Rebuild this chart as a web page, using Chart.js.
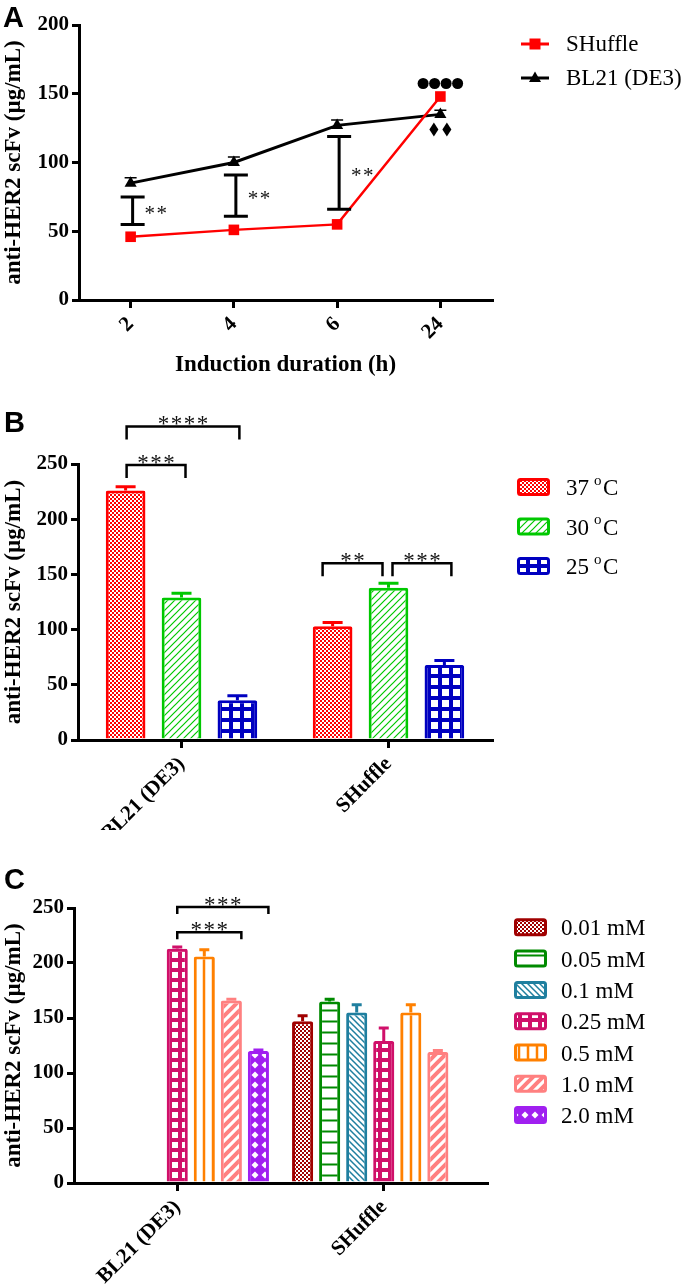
<!DOCTYPE html>
<html>
<head>
<meta charset="utf-8">
<script src="https://cdn.jsdelivr.net/npm/chart.js@4.4.1/dist/chart.umd.min.js"></script>
<style>
  body { margin: 0; background: #fff; width: 685px; height: 1285px; position: relative; overflow: hidden; }
  canvas { position: absolute; left: 0; }
</style>
</head>
<body>
<canvas id="chartA" width="685" height="390" style="top:0"></canvas>
<canvas id="chartB" width="685" height="440" style="top:390px"></canvas>
<canvas id="chartC" width="685" height="445" style="top:840px"></canvas>
<script>
/* === DATA === */
// Panel A - induction duration
const hours = ["2", "4", "6", "24"];
const shuffleA = [46, 51, 55, 148];
const bl21A = [85, 100, 127, 135];
const bl21AErr = [4, 4, 4, 3];
const sigLowA = [55, 61, 66, null];
const sigHighA = [75, 91, 119, null];

// Panel B - temperature
const strains = ["BL21 (DE3)", "SHuffle"];
const temps = ["37", "30", "25"];
const temp37 = [226, 103];
const temp37Err = [3.5, 3.5];
const temp30 = [129, 138];
const temp30Err = [4, 4];
const temp25 = [36, 68];
const temp25Err = [4, 4];

// Panel C - IPTG concentration
const iptgLabels = ["0.01 mM", "0.05 mM", "0.1 mM", "0.25 mM", "0.5 mM", "1.0 mM", "2.0 mM"];
const iptg001 = [null, 147];
const iptg005 = [null, 165];
const iptg01 = [null, 155];
const iptg025 = [213, 129];
const iptg05 = [206, 155];
const iptg10 = [166, 119];
const iptg20 = [120, null];
const iptg001Err = [0, 5];
const iptg005Err = [0, 2];
const iptg01Err = [0, 7];
const iptg025Err = [1.5, 12];
const iptg05Err = [6, 7];
const iptg10Err = [1, 1.5];
const iptg20Err = [1, 0];

const SERIF = '"Liberation Serif", "Times New Roman", serif';
const SANS = '"Liberation Sans", Arial, sans-serif';

/* === PATTERNS === */
function makePattern(size, draw) {
  const c = document.createElement("canvas");
  c.width = size; c.height = size;
  const g = c.getContext("2d");
  g.fillStyle = "#fff";
  g.fillRect(0, 0, size, size);
  draw(g, size);
  return g.createPattern(c, "repeat");
}
const checker = col => makePattern(4, (g) => {
  g.fillStyle = col; g.fillRect(0, 0, 4, 4);
  g.fillStyle = "#fff"; g.fillRect(0, 0, 2, 2); g.fillRect(2, 2, 2, 2);
});
const diag = (col, s, lw) => makePattern(s, (g) => {
  g.strokeStyle = col; g.lineWidth = lw;
  g.beginPath();
  g.moveTo(-1, s + 1); g.lineTo(s + 1, -1);
  g.moveTo(-3, 3); g.lineTo(3, -3);
  g.moveTo(s - 3, s + 3); g.lineTo(s + 3, s - 3);
  g.stroke();
});
const backDiag = (col, s, lw) => makePattern(s, (g) => {
  g.strokeStyle = col; g.lineWidth = lw;
  g.beginPath();
  g.moveTo(-1, -1); g.lineTo(s + 1, s + 1);
  g.moveTo(s - 2, -2); g.lineTo(s + 2, 2);
  g.moveTo(-2, s - 2); g.lineTo(2, s + 2);
  g.stroke();
});
const grid = (col, s, hole) => makePattern(s, (g) => {
  g.fillStyle = col; g.fillRect(0, 0, s, s);
  g.fillStyle = "#fff"; g.fillRect((s - hole) / 2, (s - hole) / 2, hole, hole);
});
const hLines = (col, s, lw) => makePattern(s, (g) => {
  g.fillStyle = col; g.fillRect(0, s / 2 - lw / 2, s, lw);
});
const vLines = (col, s, lw, at) => makePattern(s, (g) => {
  g.fillStyle = col; g.fillRect(at - lw / 2, 0, lw, s);
});
const diamonds = (col, s) => makePattern(s, (g) => {
  g.fillStyle = col; g.fillRect(0, 0, s, s);
  g.fillStyle = "#fff";
  g.beginPath();
  g.moveTo(s / 2, 1.5); g.lineTo(s - 1.5, s / 2); g.lineTo(s / 2, s - 1.5); g.lineTo(1.5, s / 2);
  g.closePath(); g.fill();
});

const colB = ["#ff0000", "#00c800", "#0000c0"];
const fillB = [checker(colB[0]), diag(colB[1], 7, 1.2), grid(colB[2], 11, 7)];
const colC = ["#a00000", "#008a00", "#1f7f9f", "#d0106a", "#ff8000", "#ff8080", "#a020f0"];
const fillC = [
  checker(colC[0]), hLines(colC[1], 11, 2), backDiag(colC[2], 6, 1.5),
  grid(colC[3], 10, 6), vLines(colC[4], 9, 2.5, 6), diag(colC[5], 10, 4), diamonds(colC[6], 10)
];

/* === SHARED AXES === */
function yAxis(max, width) {
  return {
    min: 0, max: max,
    ticks: { stepSize: 50, color: "#000", padding: 3, font: { family: SERIF, size: 21, weight: "bold" } },
    grid: { drawOnChartArea: false, tickLength: 7, lineWidth: 3, color: "#000" },
    border: { width: 3, color: "#000" },
    title: { display: true, text: "anti-HER2 scFv (µg/mL)", color: "#000", padding: 0,
             font: { family: SERIF, size: 23, weight: "bold" } },
    afterFit(s) { s.width = width; }
  };
}
function xAxis(height, title) {
  return {
    offset: true,
    ticks: { minRotation: 45, maxRotation: 45, autoSkip: false, color: "#000", padding: 4,
             font: { family: SERIF, size: 21, weight: "bold" } },
    grid: { drawOnChartArea: false, offset: false, tickLength: 8, lineWidth: 3, color: "#000" },
    border: { width: 3, color: "#000" },
    title: title
      ? { display: true, text: title, color: "#000", padding: { top: 0, bottom: 11 },
          font: { family: SERIF, size: 23, weight: "bold" } }
      : { display: false },
    afterFit(s) { s.height = height; }
  };
}

function panelLabel(ctx, txt, x, y) {
  ctx.save();
  ctx.font = "bold 29px " + SANS;
  ctx.fillStyle = "#000";
  ctx.textBaseline = "alphabetic";
  ctx.fillText(txt, x, y);
  ctx.restore();
}
function drawStars(ctx, n, cx, baseY, size, gap) {
  ctx.save();
  ctx.font = size + "px " + SERIF;
  ctx.fillStyle = "#111";
  ctx.textAlign = "center";
  ctx.textBaseline = "alphabetic";
  for (let k = 0; k < n; k++) ctx.fillText("*", cx + (k - (n - 1) / 2) * gap, baseY);
  ctx.restore();
}
function legendBox(ctx, x, cy, fill, col) {
  ctx.save();
  ctx.fillStyle = fill;
  ctx.strokeStyle = col;
  ctx.lineWidth = 3;
  ctx.beginPath();
  ctx.roundRect(x + 1.5, cy - 7.5, 30, 15, 2);
  ctx.fill();
  ctx.stroke();
  ctx.restore();
}

/* === PANEL A === */
const plugA = {
  id: "plugA",
  beforeDatasetsDraw(chart) {
    const { ctx, scales: { x, y } } = chart;
    ctx.save();
    ctx.strokeStyle = "#000";
    ctx.lineWidth = 1.5;
    bl21AErr.forEach((e, i) => {
      const px = x.getPixelForValue(i);
      const y0 = y.getPixelForValue(bl21A[i]);
      const y1 = y.getPixelForValue(bl21A[i] + e);
      ctx.beginPath();
      ctx.moveTo(px, y0); ctx.lineTo(px, y1);
      ctx.moveTo(px - 6, y1); ctx.lineTo(px + 6, y1);
      ctx.stroke();
    });
    ctx.restore();
  },
  afterDatasetsDraw(chart) {
    const { ctx, scales: { x, y } } = chart;
    ctx.save();
    ctx.strokeStyle = "#000";
    ctx.lineWidth = 3;
    sigLowA.forEach((lo, i) => {
      if (lo == null) return;
      const px = x.getPixelForValue(i) + 2;
      const yl = y.getPixelForValue(lo), yh = y.getPixelForValue(sigHighA[i]);
      ctx.beginPath();
      ctx.moveTo(px, yl); ctx.lineTo(px, yh);
      ctx.moveTo(px - 12, yl); ctx.lineTo(px + 12, yl);
      ctx.moveTo(px - 12, yh); ctx.lineTo(px + 12, yh);
      ctx.stroke();
      drawStars(ctx, 2, px + 23, (yl + yh) / 2 + 9, 21, 12);
    });
    // markers at 24 h
    const px = x.getPixelForValue(3);
    const ys = y.getPixelForValue(shuffleA[3]) - 13;
    ctx.fillStyle = "#000";
    for (let k = 0; k < 4; k++) {
      ctx.beginPath();
      ctx.arc(px + (k - 1.5) * 11.5, ys, 5.5, 0, Math.PI * 2);
      ctx.fill();
    }
    const yb = y.getPixelForValue(bl21A[3]) + 15;
    [-6.5, 6.5].forEach(dx => {
      ctx.beginPath();
      ctx.moveTo(px + dx, yb - 7); ctx.lineTo(px + dx + 4.5, yb);
      ctx.lineTo(px + dx, yb + 7); ctx.lineTo(px + dx - 4.5, yb);
      ctx.closePath(); ctx.fill();
    });
    ctx.restore();
  },
  afterDraw(chart) {
    const ctx = chart.ctx;
    ctx.save();
    const rows = [["SHuffle", "#ff0000", "rect", 44], ["BL21 (DE3)", "#000", "tri", 78]];
    rows.forEach(([txt, col, shape, cy]) => {
      ctx.strokeStyle = col; ctx.fillStyle = col; ctx.lineWidth = 3;
      ctx.beginPath(); ctx.moveTo(521, cy); ctx.lineTo(549, cy); ctx.stroke();
      ctx.beginPath();
      if (shape === "rect") ctx.rect(529.5, cy - 5.5, 11, 11);
      else { ctx.moveTo(535, cy - 6.5); ctx.lineTo(541, cy + 4); ctx.lineTo(529, cy + 4); ctx.closePath(); }
      ctx.fill();
      ctx.fillStyle = "#000";
      ctx.font = "23px " + SERIF;
      ctx.textBaseline = "middle";
      ctx.fillText(txt, 566, cy + 1);
    });
    ctx.restore();
    panelLabel(ctx, "A", 3, 27);
  }
};

new Chart(document.getElementById("chartA"), {
  type: "line",
  data: {
    labels: hours,
    datasets: [
      { label: "SHuffle", data: shuffleA, borderColor: "#ff0000", borderWidth: 2.5,
        pointStyle: "rect", pointRadius: 7.5, pointBackgroundColor: "#ff0000", pointBorderWidth: 0, clip: false },
      { label: "BL21 (DE3)", data: bl21A, borderColor: "#000", borderWidth: 3,
        pointStyle: "triangle", pointRadius: 7, pointBackgroundColor: "#000", pointBorderWidth: 0, clip: false }
    ]
  },
  options: {
    responsive: false, animation: false, events: [],
    layout: { padding: { top: 25, right: 193, left: 0, bottom: 0 } },
    plugins: { legend: { display: false }, tooltip: { enabled: false } },
    scales: { x: xAxis(90, "Induction duration (h)"), y: yAxis(200, 79) }
  },
  plugins: [plugA]
});

/* === BAR PANEL HELPERS === */
function drawErrors(chart, errs, cols, half) {
  const { ctx, scales: { y } } = chart;
  ctx.save();
  ctx.lineWidth = 3;
  chart.data.datasets.forEach((ds, i) => {
    const meta = chart.getDatasetMeta(i);
    ds.data.forEach((v, j) => {
      if (v == null || !errs[i][j]) return;
      const bar = meta.data[j];
      const y1 = y.getPixelForValue(v + errs[i][j]);
      ctx.strokeStyle = cols[i];
      ctx.beginPath();
      ctx.moveTo(bar.x, y.getPixelForValue(v)); ctx.lineTo(bar.x, y1);
      ctx.moveTo(bar.x - half, y1); ctx.lineTo(bar.x + half, y1);
      ctx.stroke();
    });
  });
  ctx.restore();
}
function drawBrackets(chart, list, leg, starSize, gap) {
  const { ctx, scales: { y } } = chart;
  ctx.save();
  ctx.strokeStyle = "#000";
  ctx.lineWidth = 2.5;
  list.forEach(b => {
    const x0 = chart.getDatasetMeta(b.from).data[b.group].x + b.dx[0];
    const x1 = chart.getDatasetMeta(b.to).data[b.group].x + b.dx[1];
    const yy = y.getPixelForValue(b.level);
    ctx.beginPath();
    ctx.moveTo(x0, yy + leg); ctx.lineTo(x0, yy); ctx.lineTo(x1, yy); ctx.lineTo(x1, yy + leg);
    ctx.stroke();
    drawStars(ctx, b.stars, (x0 + x1) / 2, yy + 5, starSize, gap);
  });
  ctx.restore();
}

/* === PANEL B === */
const bracketsB = [
  { group: 0, from: 0, to: 1, level: 249, stars: 3, dx: [1, 4] },
  { group: 0, from: 0, to: 2, level: 284, stars: 4, dx: [1, 2] },
  { group: 1, from: 0, to: 1, level: 160, stars: 2, dx: [-10, -6] },
  { group: 1, from: 1, to: 2, level: 160, stars: 3, dx: [4, 7] }
];
const plugB = {
  id: "plugB",
  afterDatasetsDraw(chart) {
    drawErrors(chart, [temp37Err, temp30Err, temp25Err], colB, 10);
  },
  afterDraw(chart) {
    const ctx = chart.ctx;
    drawBrackets(chart, bracketsB, 13, 23, 13);
    ctx.save();
    temps.forEach((t, i) => {
      const cy = 97 + i * 39.5;
      legendBox(ctx, 517, cy, fillB[i], colB[i]);
      ctx.fillStyle = "#000";
      ctx.textBaseline = "middle";
      ctx.font = "23px " + SERIF;
      ctx.fillText(t, 566, cy + 2);
      ctx.font = "15px " + SERIF;
      ctx.fillText("o", 594, cy - 6);
      ctx.font = "23px " + SERIF;
      ctx.fillText("C", 603, cy + 2);
    });
    ctx.restore();
    panelLabel(ctx, "B", 4, 42);
  }
};

new Chart(document.getElementById("chartB"), {
  type: "bar",
  data: {
    labels: strains,
    datasets: [temp37, temp30, temp25].map((d, i) => ({
      label: temps[i] + " °C", data: d, backgroundColor: fillB[i], borderColor: colB[i],
      borderWidth: 3, borderRadius: 2, borderSkipped: "bottom"
    }))
  },
  options: {
    responsive: false, animation: false, events: [],
    datasets: { bar: { categoryPercentage: 0.81, barPercentage: 0.71 } },
    layout: { padding: { top: 74, right: 193, left: 0, bottom: 0 } },
    plugins: { legend: { display: false }, tooltip: { enabled: false } },
    scales: { x: xAxis(90, null), y: yAxis(250, 78) }
  },
  plugins: [plugB]
});

/* === PANEL C === */
const bracketsC = [
  { group: 0, from: 3, to: 5, level: 228, stars: 3, dx: [0, 10] },
  { group: 0, from: 3, to: 6, level: 251, stars: 3, dx: [0, 10] }
];
const plugC = {
  id: "plugC",
  afterDatasetsDraw(chart) {
    drawErrors(chart, [iptg001Err, iptg005Err, iptg01Err, iptg025Err, iptg05Err, iptg10Err, iptg20Err], colC, 5);
  },
  afterDraw(chart) {
    const ctx = chart.ctx;
    drawBrackets(chart, bracketsC, 7, 23, 13);
    ctx.save();
    iptgLabels.forEach((t, i) => {
      const cy = 87.3 + i * 31.3;
      legendBox(ctx, 514, cy, fillC[i], colC[i]);
      ctx.fillStyle = "#000";
      ctx.textBaseline = "middle";
      ctx.font = "23px " + SERIF;
      ctx.fillText(t, 561, cy + 2);
    });
    ctx.restore();
    panelLabel(ctx, "C", 4, 49);
  }
};

new Chart(document.getElementById("chartC"), {
  type: "bar",
  data: {
    labels: strains,
    datasets: [iptg001, iptg005, iptg01, iptg025, iptg05, iptg10, iptg20].map((d, i) => ({
      label: iptgLabels[i], data: d, backgroundColor: fillC[i], borderColor: colC[i],
      borderWidth: 3, borderRadius: 2, borderSkipped: "bottom"
    }))
  },
  options: {
    responsive: false, animation: false, events: [],
    datasets: { bar: { categoryPercentage: 0.917, barPercentage: 0.78 } },
    layout: { padding: { top: 68, right: 198, left: 0, bottom: 0 } },
    plugins: { legend: { display: false }, tooltip: { enabled: false } },
    scales: { x: xAxis(102, null), y: yAxis(250, 74) }
  },
  plugins: [plugC]
});
</script>
</body>
</html>
